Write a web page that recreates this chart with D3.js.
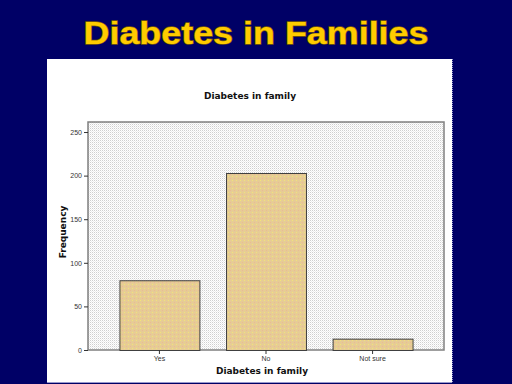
<!DOCTYPE html>
<html><head><meta charset="utf-8">
<script src="https://cdn.jsdelivr.net/npm/d3@7"></script>
<style>html,body{margin:0;padding:0;background:#000066;}svg{display:block;}</style>
</head><body>
<svg id="c" width="512" height="384"></svg>
<script>
const categories = ["Yes", "No", "Not sure"];
const frequencies = [80, 203, 13];
const yTicks = [0, 50, 100, 150, 200, 250];
const slideTitle = "Diabetes in Families";
const chartTitle = "Diabetes in family";
const xTitle = "Diabetes in family";
const yTitle = "Frequency";

const svg = d3.select("#c");
const defs = svg.append("defs");
const pb = defs.append("pattern").attr("id","bgp").attr("width",2).attr("height",2).attr("patternUnits","userSpaceOnUse");
pb.append("rect").attr("width",2).attr("height",2).attr("fill","#ffffff");
pb.append("rect").attr("width",1).attr("height",1).attr("fill","#cfcfcf");
pb.append("rect").attr("x",1).attr("y",1).attr("width",1).attr("height",1).attr("fill","#ececec");
const bp = defs.append("pattern").attr("id","barp").attr("width",4).attr("height",4).attr("patternUnits","userSpaceOnUse");
bp.append("rect").attr("width",4).attr("height",4).attr("fill","#e6cc95");
bp.append("rect").attr("width",1).attr("height",1).attr("fill","#f2e478");
bp.append("rect").attr("x",2).attr("y",2).attr("width",1).attr("height",1).attr("fill","#ecb896");

svg.append("rect").attr("width",512).attr("height",384).attr("fill","#000066");

svg.append("text").attr("x",256).attr("y",44).attr("text-anchor","middle")
  .attr("font-family","Liberation Sans, Arial, sans-serif").attr("font-weight","bold")
  .attr("font-size",32).attr("textLength",345).attr("lengthAdjust","spacingAndGlyphs")
  .attr("fill","#ffcc00").attr("stroke","#7a5e00").attr("stroke-width",1.3)
  .attr("paint-order","stroke")
  .text(slideTitle);

svg.append("rect").attr("x",47).attr("y",59).attr("width",405).attr("height",323).attr("fill","#ffffff");
svg.append("line").attr("x1",47).attr("x2",452).attr("y1",382.5).attr("y2",382.5).attr("stroke","#9999cc");
svg.append("line").attr("x1",452.5).attr("x2",452.5).attr("y1",59).attr("y2",383).attr("stroke","#9999cc").attr("stroke-dasharray","1,1");

const L = 88, R = 444, T = 122, B = 350;
const x = d3.scaleBand().domain(categories).range([L, R]).paddingInner(0.25).paddingOuter(0.295);
const y = d3.scaleLinear().domain([0, 261.5]).range([B, T]);

svg.append("rect").attr("x",L).attr("y",T).attr("width",R-L).attr("height",B-T)
  .attr("fill","url(#bgp)").attr("stroke","#808080").attr("stroke-width",1.5);

svg.append("g").selectAll("rect").data(frequencies).join("rect")
  .attr("x",(d,i)=>x(categories[i])+0.5).attr("width",x.bandwidth())
  .attr("y",d=>y(d)+0.5).attr("height",d=>B-y(d))
  .attr("fill","url(#barp)").attr("stroke","#404040").attr("stroke-width",1);

const yAxis = d3.axisLeft(y).tickValues(yTicks).tickSize(4).tickPadding(2);
const gy = svg.append("g").attr("transform",`translate(${L},0)`).call(yAxis);
gy.select(".domain").remove();
gy.selectAll("text").attr("font-family","Liberation Sans, Arial, sans-serif").attr("font-size",7).attr("fill","#333");
gy.selectAll("line").attr("stroke","#333");

const xAxis = d3.axisBottom(x).tickSize(4).tickPadding(2);
const gx = svg.append("g").attr("transform",`translate(0,${B})`).call(xAxis);
gx.select(".domain").remove();
gx.selectAll("text").attr("font-family","Liberation Sans, Arial, sans-serif").attr("font-size",7).attr("fill","#333");
gx.selectAll("line").attr("stroke","#333");

svg.append("text").attr("x",250).attr("y",99).attr("text-anchor","middle")
  .attr("font-family","DejaVu Sans, sans-serif").attr("font-weight","bold").attr("font-size",9).attr("fill","#111")
  .text(chartTitle);
svg.append("text").attr("x",262).attr("y",374).attr("text-anchor","middle")
  .attr("font-family","DejaVu Sans, sans-serif").attr("font-weight","bold").attr("font-size",9).attr("fill","#111")
  .text(xTitle);
svg.append("text").attr("transform","translate(66,232) rotate(-90)").attr("text-anchor","middle")
  .attr("font-family","DejaVu Sans, sans-serif").attr("font-weight","bold").attr("font-size",9).attr("fill","#111")
  .text(yTitle);
</script>
</body></html>
